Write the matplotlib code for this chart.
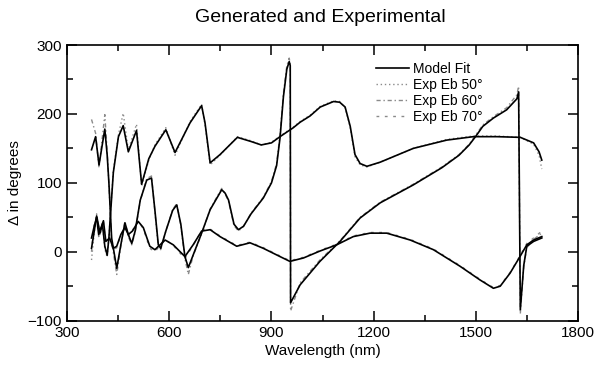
import matplotlib
matplotlib.use("agg")
import matplotlib.pyplot as plt
from matplotlib.ticker import MultipleLocator

plt.rcParams['font.family'] = ['Liberation Sans', 'DejaVu Sans']

#### curve that starts high, drops, and wraps round at 955 and 1630 nm ####
wl_a = [372, 384, 394, 411, 418, 423, 431, 446, 458, 470, 480, 490, 500, 515, 534,
        548, 558, 568, 575, 590, 610, 622, 634, 646, 656, 670, 695, 720, 754, 764,
        774, 790, 803, 818, 840, 876, 900, 915, 925, 935, 945, 952, 955, 956, 984,
        1042, 1101, 1160, 1219, 1316, 1400, 1450, 1480, 1500, 1520, 1551, 1590, 1620,
        1625, 1630, 1640, 1649, 1669, 1693]
fit_a = [148, 167, 126, 178, 140, 100, 20, -24, 10, 42, 25, 12, 30, 75, 104,
         107, 60, 10, 5, 30, 60, 68, 40, -7, -23, -5, 27, 61, 90, 85,
         75, 40, 32, 37, 55, 78, 100, 125, 165, 225, 265, 276, 270, -74, -48,
         -14, 15, 49, 71, 97, 122, 140, 155, 168, 182, 194, 206, 222,
         232, -84, -20, 8, 15, 20]
exp_a = [192, 172, 122, 199, 145, 98, 15, -33, 8, 44, 22, 10, 28, 74, 106,
         110, 58, 6, 3, 30, 61, 70, 38, -10, -33, -6, 26, 62, 92, 84,
         73, 38, 30, 37, 56, 79, 102, 128, 170, 230, 270, 281, 272, -86, -45,
         -12, 16, 50, 72, 98, 123, 141, 156, 170, 184, 196, 209, 228,
         240, -90, -22, 6, 18, 27]

#### curve that starts low and ends on top ####
wl_b = [372, 380, 387, 397, 404, 411, 418, 423, 436, 451, 465, 480, 504, 519, 540,
        558, 590, 617, 661, 695, 705, 720, 749, 800, 840, 870, 900, 925, 964, 984,
        1013, 1043, 1082, 1100, 1116, 1131, 1145, 1160, 1180, 1219, 1316, 1414, 1492,
        1561, 1630, 1669, 1685, 1693]
fit_b = [5, 30, 52, 27, 40, 8, -5, 20, 115, 167, 183, 145, 176, 98, 135,
         153, 177, 144, 187, 212, 187, 129, 141, 166, 160, 155, 158, 167, 180, 188,
         197, 210, 218, 217, 210, 182, 141, 128, 124, 130, 150, 162, 167,
         167, 166, 158, 145, 133]
exp_b = [-12, 28, 55, 24, 42, 4, -8, 22, 118, 170, 201, 148, 185, 95, 133,
         155, 180, 140, 189, 214, 184, 126, 140, 167, 161, 155, 159, 168, 181, 189,
         198, 211, 219, 218, 209, 180, 138, 126, 123, 130, 150, 163, 168,
         168, 166, 156, 140, 120]

#### lower curve ####
wl_c = [372, 379, 387, 393, 400, 407, 414, 425, 436, 446, 458, 470, 480, 492, 509,
        524, 543, 558, 588, 612, 646, 670, 695, 720, 749, 798, 837, 876, 925, 954,
        994, 1042, 1091, 1140, 1189, 1238, 1307, 1375, 1453, 1512, 1551, 1571, 1600,
        1629, 1649, 1669, 1693]
fit_c = [20, 35, 50, 25, 35, 45, 15, 20, 5, 8, 25, 35, 25, 30, 44,
         35, 8, 3, 17, 10, -7, 10, 30, 32, 22, 8, 13, 5, -7, -14,
         -9, 1, 10, 22, 27, 27, 17, 3, -21, -41, -53, -50, -31,
         -7, 10, 17, 22]
exp_c = [0, 38, 48, 22, 37, 43, 12, 18, 2, 6, 24, 37, 23, 31, 45,
         33, 5, 0, 18, 9, -10, 9, 31, 33, 23, 9, 14, 6, -6, -13,
         -8, 2, 11, 23, 28, 28, 18, 4, -20, -40, -52, -49, -30,
         -6, 12, 20, 30]

series_labels = ['Model Fit', u'Exp Eb 50\u00b0', u'Exp Eb 60\u00b0', u'Exp Eb 70\u00b0']

fig = plt.figure(figsize=(5.98, 3.72), dpi=100)
ax = fig.add_axes([0.112, 0.138, 0.855, 0.741])

ax.plot(wl_b, exp_b, color='#8a8a8a', lw=1.0, ls=(0, (1, 2)), label=series_labels[1])
ax.plot(wl_a, exp_a, color='#8a8a8a', lw=1.0, ls=(0, (3, 2, 1, 2)), label=series_labels[2])
ax.plot(wl_c, exp_c, color='#8a8a8a', lw=1.0, ls=(0, (2, 4)), label=series_labels[3])
ax.plot(wl_a, fit_a, color='black', lw=1.2, label=series_labels[0])
ax.plot(wl_b, fit_b, color='black', lw=1.2)
ax.plot(wl_c, fit_c, color='black', lw=1.2)

ax.set_xlim(300, 1800)
ax.set_ylim(-100, 300)
ax.xaxis.set_major_locator(MultipleLocator(300))
ax.xaxis.set_minor_locator(MultipleLocator(150))
ax.yaxis.set_major_locator(MultipleLocator(100))
ax.yaxis.set_minor_locator(MultipleLocator(50))
ax.tick_params(which='both', direction='in', top=True, right=True, labelsize=11, width=1.1)
ax.tick_params(which='major', length=7)
ax.tick_params(which='minor', length=4)
for s in ax.spines.values():
    s.set_linewidth(1.2)

ax.set_xlabel("Wavelength (nm)", fontsize=11, labelpad=3)
ax.set_ylabel(u"\u0394 in degrees", fontsize=11, labelpad=4)
fig.suptitle("Generated and Experimental", fontsize=14, x=0.535, y=0.975)

h, l = ax.get_legend_handles_labels()
order = [3, 0, 1, 2]
ax.legend([h[i] for i in order], [l[i] for i in order], loc='upper left',
          bbox_to_anchor=(0.588, 0.97), frameon=False, fontsize=10,
          handlelength=2.4, handletextpad=0.3, labelspacing=0.15, borderaxespad=0.2)

fig.savefig("out.png", dpi=100)
